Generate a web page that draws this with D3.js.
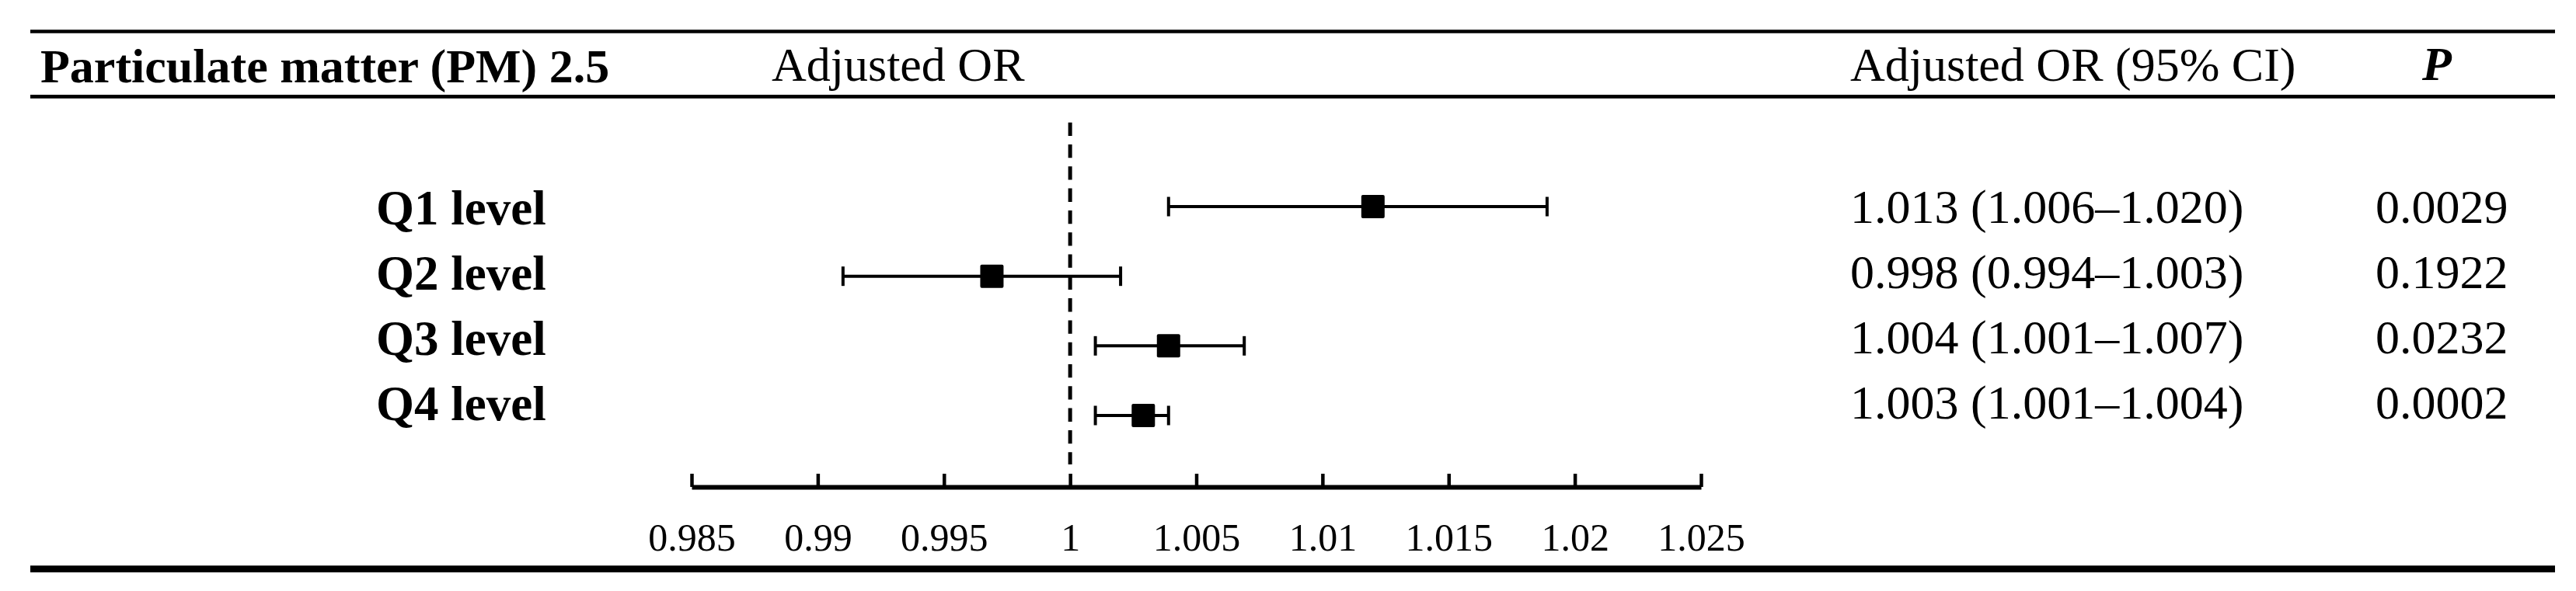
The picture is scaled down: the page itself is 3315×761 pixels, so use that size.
<!DOCTYPE html>
<html>
<head>
<meta charset="utf-8">
<script src="https://cdn.jsdelivr.net/npm/d3@7"></script>
<style>
  html, body { margin: 0; padding: 0; background: #fff; }
  svg { display: block; }
  text { font-family: "Liberation Serif", "Times New Roman", serif; fill: #000; }
</style>
</head>
<body>
<svg id="chart" width="3315" height="761"></svg>
<script>
// ---- data ----
const categories = ["Q1 level", "Q2 level", "Q3 level", "Q4 level"];
const orPlot = [1.0120, 0.9969, 1.0039, 1.0029];
const loPlot = [1.0039, 0.9910, 1.0010, 1.0010];
const hiPlot = [1.0189, 1.0020, 1.0069, 1.0039];
const ciLabels = ["1.013 (1.006\u20131.020)", "0.998 (0.994\u20131.003)", "1.004 (1.001\u20131.007)", "1.003 (1.001\u20131.004)"];
const pLabels = ["0.0029", "0.1922", "0.0232", "0.0002"];
const tickValues = [0.985, 0.99, 0.995, 1, 1.005, 1.01, 1.015, 1.02, 1.025];
const tickLabels = ["0.985", "0.99", "0.995", "1", "1.005", "1.01", "1.015", "1.02", "1.025"];
const headerTitle = "Particulate matter (PM) 2.5";
const headerPlot = "Adjusted OR";
const headerCI = "Adjusted OR (95% CI)";
const headerP = "P";
const refValue = 1;

// ---- layout ----
const svg = d3.select("#chart");
const x = d3.scaleLinear().domain([0.985, 1.025]).range([890, 2189]);
const yMark = d3.scalePoint().domain(categories).range([266, 535]);
const yText = d3.scalePoint().domain(categories).range([289, 541]);
const yCIText = d3.scalePoint().domain(categories).range([287, 539]);
const ruleX0 = 39, ruleX1 = 3288;

// horizontal rules
[[40.5, 4.5], [124.3, 4.7], [732.7, 8.7]].forEach(([yy, w]) => {
  svg.append("line").attr("x1", ruleX0).attr("x2", ruleX1)
    .attr("y1", yy).attr("y2", yy)
    .attr("stroke", "#000").attr("stroke-width", w);
});

// header texts
svg.append("text").attr("x", 52).attr("y", 106)
  .attr("font-size", 62).attr("font-weight", "bold").text(headerTitle);
svg.append("text").attr("x", 993).attr("y", 104)
  .attr("font-size", 62).text(headerPlot);
svg.append("text").attr("x", 2381).attr("y", 104)
  .attr("font-size", 62).text(headerCI);
svg.append("text").attr("x", 3136).attr("y", 103)
  .attr("text-anchor", "middle")
  .attr("font-size", 62).attr("font-weight", "bold").attr("font-style", "italic").text(headerP);

// reference dashed line
svg.append("line")
  .attr("x1", x(refValue)).attr("x2", x(refValue))
  .attr("y1", 157.7).attr("y2", 598)
  .attr("stroke", "#000").attr("stroke-width", 5)
  .attr("stroke-dasharray", "17.3,11");

// axis
const axis = d3.axisBottom(x)
  .tickValues(tickValues)
  .tickFormat((d, i) => tickLabels[i])
  .tickSizeInner(-17)
  .tickSizeOuter(0);
const gAxis = svg.append("g").attr("transform", "translate(0,627)").call(axis);
gAxis.select(".domain").attr("stroke", "#000").attr("stroke-width", 6);
gAxis.selectAll(".tick line").attr("stroke", "#000").attr("stroke-width", 4.5);
gAxis.selectAll(".tick text")
  .attr("y", 82).attr("dy", 0)
  .attr("font-size", 50)
  .attr("font-family", "Liberation Serif, Times New Roman, serif")
  .attr("fill", "#000");

// category labels
svg.append("g").selectAll("text").data(categories).join("text")
  .attr("x", 484).attr("y", d => yText(d))
  .attr("font-size", 63).attr("font-weight", "bold")
  .text(d => d);

// CI lines
const rows = categories.map((c, i) => ({ c, or: orPlot[i], lo: loPlot[i], hi: hiPlot[i] }));
const gCI = svg.append("g");
gCI.selectAll("line.ci").data(rows).join("line").attr("class", "ci")
  .attr("x1", d => x(d.lo)).attr("x2", d => x(d.hi))
  .attr("y1", d => yMark(d.c)).attr("y2", d => yMark(d.c))
  .attr("stroke", "#000").attr("stroke-width", 4);
gCI.selectAll("line.capl").data(rows).join("line").attr("class", "capl")
  .attr("x1", d => x(d.lo)).attr("x2", d => x(d.lo))
  .attr("y1", d => yMark(d.c) - 12.5).attr("y2", d => yMark(d.c) + 12.5)
  .attr("stroke", "#000").attr("stroke-width", 4);
gCI.selectAll("line.capr").data(rows).join("line").attr("class", "capr")
  .attr("x1", d => x(d.hi)).attr("x2", d => x(d.hi))
  .attr("y1", d => yMark(d.c) - 12.5).attr("y2", d => yMark(d.c) + 12.5)
  .attr("stroke", "#000").attr("stroke-width", 4);
const ms = 30;
gCI.selectAll("rect").data(rows).join("rect")
  .attr("x", d => x(d.or) - ms / 2).attr("y", d => yMark(d.c) - ms / 2)
  .attr("width", ms).attr("height", ms).attr("rx", 2)
  .attr("fill", "#000");

// right columns
svg.append("g").selectAll("text").data(categories).join("text")
  .attr("x", 2381).attr("y", d => yCIText(d))
  .attr("font-size", 62)
  .text((d, i) => ciLabels[i]);
svg.append("g").selectAll("text").data(categories).join("text")
  .attr("x", 3057).attr("y", d => yCIText(d))
  .attr("font-size", 62)
  .text((d, i) => pLabels[i]);
</script>
</body>
</html>
